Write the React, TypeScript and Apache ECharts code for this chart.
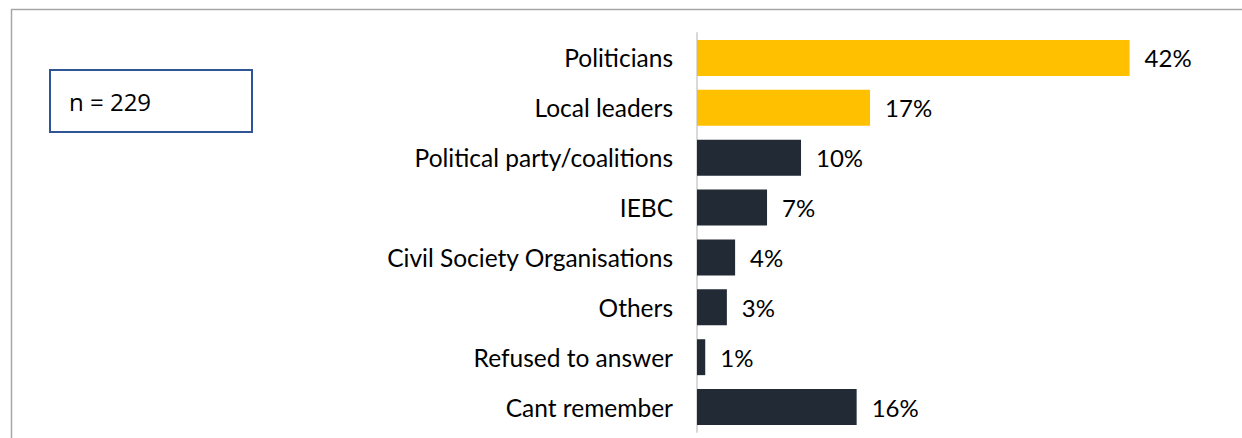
import React, { useEffect, useRef } from "react";
import * as echarts from "echarts";

const categories = [
  "Politicians",
  "Local leaders",
  "Political party/coalitions",
  "IEBC",
  "Civil Society Organisations",
  "Others",
  "Refused to answer",
  "Cant remember",
];
const values = [42.0, 16.8, 10.1, 6.8, 3.7, 2.9, 0.8, 15.5];
const highlighted = [true, true, false, false, false, false, false, false];
const sampleLabel = "n = 229";

const YELLOW = "#FFC000";
const DARK = "#222A35";
const FONT = "Lato, 'Noto Sans', sans-serif";

export default function App() {
  const ref = useRef<HTMLDivElement>(null);
  useEffect(() => {
    if (!ref.current) return;
    const chart = echarts.init(ref.current, undefined, { renderer: "svg" });
    chart.setOption({
      animation: false,
      backgroundColor: "#ffffff",
      grid: { left: 697, top: 33, bottom: 6, right: 30, containLabel: false },
      xAxis: {
        type: "value",
        min: 0,
        max: 50,
        show: false,
      },
      yAxis: {
        type: "category",
        inverse: true,
        data: categories,
        axisLine: { show: true, lineStyle: { color: "#d9d9d9", width: 2 } },
        axisTick: { show: false },
        axisLabel: {
          margin: 24,
          fontSize: 24.5,
          fontFamily: FONT,
          color: "#000000",
        },
      },
      series: [
        {
          type: "bar",
          data: values.map((v, i) => ({
            value: v,
            itemStyle: { color: highlighted[i] ? YELLOW : DARK },
          })),
          barCategoryGap: "28%",
          label: {
            show: true,
            position: "right",
            distance: 15,
            fontSize: 24,
            fontFamily: FONT,
            color: "#000000",
            formatter: (p: any) => `${Math.round(p.value)}%`,
          },
        },
      ],
      graphic: [
        {
          type: "line",
          shape: { x1: 11, y1: 9.5, x2: 1242, y2: 9.5 },
          style: { stroke: "#a6a6a6", lineWidth: 1.5 },
        },
        {
          type: "line",
          shape: { x1: 11.5, y1: 9, x2: 11.5, y2: 438 },
          style: { stroke: "#a6a6a6", lineWidth: 1.5 },
        },
        {
          type: "rect",
          shape: { x: 50, y: 70, width: 202, height: 62 },
          style: { fill: "#ffffff", stroke: "#2F5597", lineWidth: 2 },
        },
        {
          type: "text",
          x: 69,
          y: 101,
          style: {
            text: sampleLabel,
            fontSize: 24,
            fontFamily: "'Open Sans', 'Noto Sans', sans-serif",
            fill: "#000000",
            verticalAlign: "middle",
          },
        },
      ],
    });
    return () => chart.dispose();
  }, []);
  return (
    <div
      ref={ref}
      style={{ position: "fixed", left: 0, top: 0, width: 1242, height: 438 }}
    />
  );
}
